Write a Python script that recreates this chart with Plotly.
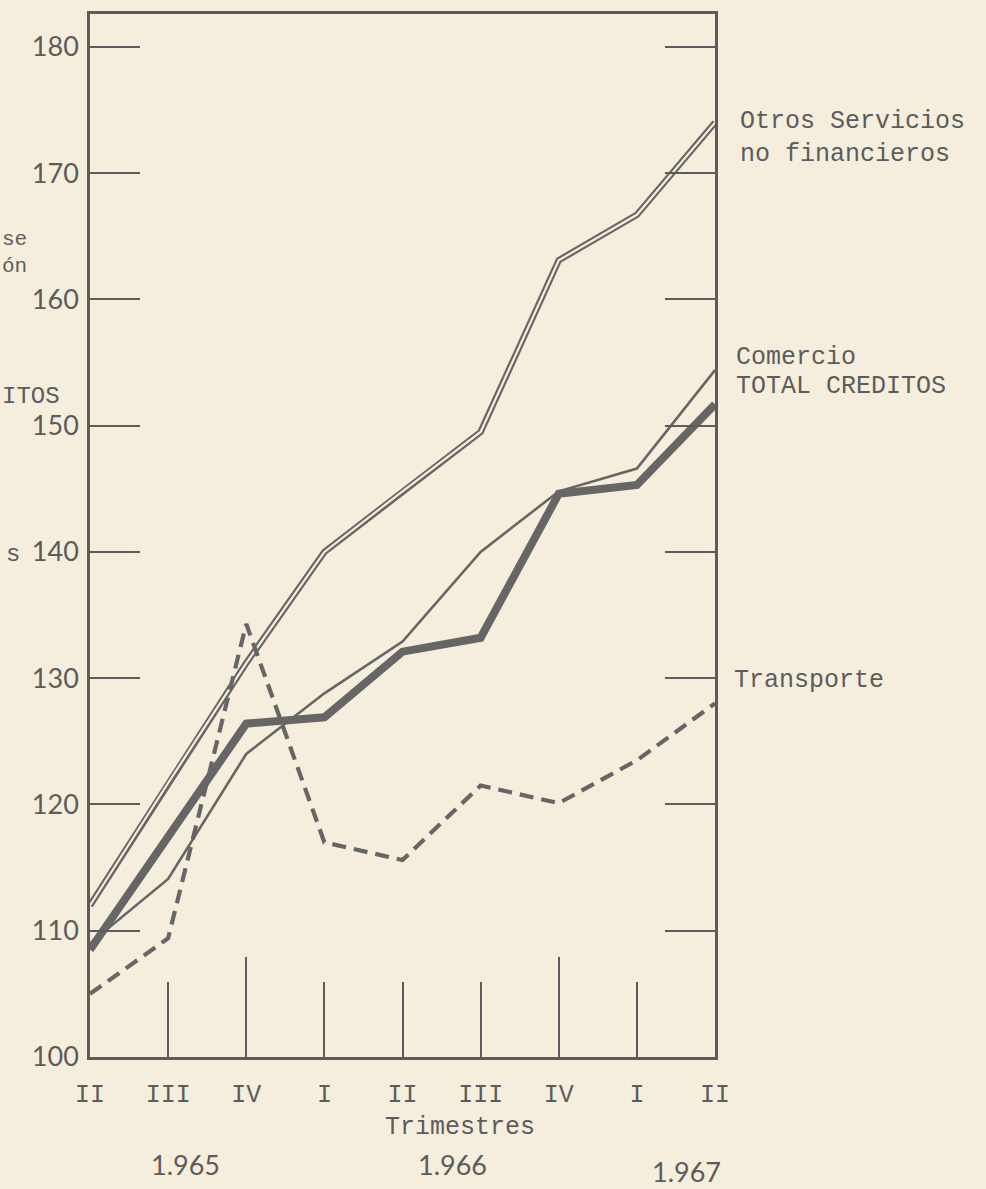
import plotly.graph_objects as go

# ---- data ----
quarters = ["II", "III", "IV", "I", "II", "III", "IV", "I", "II"]
x_pos = list(range(len(quarters)))
otros = [112.0, 121.7, 131.2, 140.0, 144.8, 149.5, 163.1, 166.7, 174.0]
comercio = [109.0, 114.1, 124.0, 128.8, 132.9, 140.0, 144.8, 146.6, 154.4]
total = [108.5, 117.5, 126.4, 126.9, 132.1, 133.2, 144.6, 145.3, 151.7]
transporte = [105.0, 109.4, 134.3, 117.0, 115.6, 121.5, 120.1, 123.5, 128.0]
y_ticks = [100, 110, 120, 130, 140, 150, 160, 170, 180]
long_ticks = [2, 6]
years = ["1.965", "1.966", "1.967"]
year_x = [0.153, 0.58, 0.955]
year_y = [-0.103, -0.103, -0.110]

PAPER = "#f5eedc"
INK = "#5c5c5c"
LINE = "#666666"
MONO = "Liberation Mono"
NUM = "Lato"

fig = go.Figure()

# Otros servicios: double line (wide grey + thin paper-coloured core)
fig.add_trace(go.Scatter(x=x_pos, y=otros, mode="lines",
                         line=dict(color=LINE, width=6.5), showlegend=False,
                         hoverinfo="skip"))
fig.add_trace(go.Scatter(x=x_pos, y=otros, mode="lines",
                         line=dict(color=PAPER, width=2.2), showlegend=False,
                         name="Otros Servicios no financieros"))
# Comercio: thin line
fig.add_trace(go.Scatter(x=x_pos, y=comercio, mode="lines",
                         line=dict(color=LINE, width=2.6), showlegend=False,
                         name="Comercio"))
# Total creditos: thick line
fig.add_trace(go.Scatter(x=x_pos, y=total, mode="lines",
                         line=dict(color=LINE, width=8), showlegend=False,
                         name="TOTAL CREDITOS"))
# Transporte: dashed
fig.add_trace(go.Scatter(x=x_pos, y=transporte, mode="lines",
                         line=dict(color=LINE, width=4.2, dash="14px,8px"),
                         showlegend=False, name="Transporte"))

# invisible trace on an overlay subplot carrying the long year ticks
fig.add_trace(go.Scatter(x=[x_pos[0], x_pos[-1]], y=[y_ticks[0], y_ticks[0]],
                         xaxis="x2", yaxis="y2", mode="lines",
                         line=dict(width=0), showlegend=False,
                         hoverinfo="skip"))

YR = [100, 182.6]
fig.update_layout(
    width=986, height=1189,
    paper_bgcolor=PAPER, plot_bgcolor=PAPER,
    margin=dict(l=90, r=271, t=11, b=132),
    xaxis=dict(range=[0, 8], tickmode="array", tickvals=x_pos, ticktext=quarters,
               ticks="inside", ticklen=75, tickwidth=2.2, tickcolor=INK,
               showline=True, linecolor=INK, linewidth=2.5, mirror=True,
               showgrid=False, zeroline=False, ticklabelstandoff=12,
               tickfont=dict(family=MONO, size=25, color=INK)),
    xaxis2=dict(range=[0, 8], overlaying="x", side="bottom", anchor="y2",
                tickmode="array", tickvals=long_ticks, ticks="inside",
                ticklen=100, tickwidth=2.2, tickcolor=INK,
                showticklabels=False, showline=False, showgrid=False,
                zeroline=False),
    yaxis=dict(range=YR, tickmode="array", tickvals=y_ticks,
               ticks="inside", ticklen=50, tickwidth=2.4, tickcolor=INK,
               showline=True, linecolor=INK, linewidth=2.5, mirror="allticks",
               showgrid=False, zeroline=False, ticklabelstandoff=3,
               tickfont=dict(family=NUM, size=27, color=INK)),
    yaxis2=dict(range=YR, overlaying="y", anchor="x2",
                showticklabels=False, ticks="", showline=False,
                showgrid=False, zeroline=False),
)

ann = []
lab_font = dict(family=MONO, size=25, color=INK)
ann.append(dict(x=1.036, xref="paper", y=otros[-1] - 1.2, yref="y",
                text="Otros Servicios<br>no financieros", showarrow=False,
                xanchor="left", yanchor="middle", align="left", font=lab_font))
ann.append(dict(x=1.030, xref="paper", y=comercio[-1] + 1.0, yref="y",
                text="Comercio", showarrow=False, xanchor="left",
                yanchor="middle", align="left", font=lab_font))
ann.append(dict(x=1.030, xref="paper", y=total[-1] + 1.4, yref="y",
                text="TOTAL CREDITOS", showarrow=False, xanchor="left",
                yanchor="middle", align="left", font=lab_font))
ann.append(dict(x=1.027, xref="paper", y=transporte[-1] + 1.8, yref="y",
                text="Transporte", showarrow=False, xanchor="left",
                yanchor="middle", align="left", font=lab_font))
ann.append(dict(x=0.592, xref="paper", y=-0.068, yref="paper",
                text="Trimestres", showarrow=False, xanchor="center",
                yanchor="middle", font=lab_font))
for yr, xx, yy in zip(years, year_x, year_y):
    ann.append(dict(x=xx, xref="paper", y=yy, yref="paper", text=yr,
                    showarrow=False, xanchor="center", yanchor="middle",
                    font=dict(family=NUM, size=27, color=INK)))

# fragments of text at the left page edge (rest of the words cut by the page)
frag_font = dict(family=MONO, size=24, color=INK)
ann.append(dict(x=-0.144, xref="paper", y=163.7, yref="y", text="se<br>ón",
                showarrow=False, xanchor="left", yanchor="middle", align="left",
                font=dict(family=MONO, size=21, color=INK)))
ann.append(dict(x=-0.144, xref="paper", y=152.3, yref="y", text="ITOS",
                showarrow=False, xanchor="left", yanchor="middle", font=frag_font))
ann.append(dict(x=-0.138, xref="paper", y=139.8, yref="y", text="s",
                showarrow=False, xanchor="left", yanchor="middle", font=frag_font))

fig.update_layout(annotations=ann)
fig.write_html(
    "out.html",
    config={"displayModeBar": False},
    post_script="document.body.style.margin='0';"
                "document.body.style.background='#f5eedc';",
)
